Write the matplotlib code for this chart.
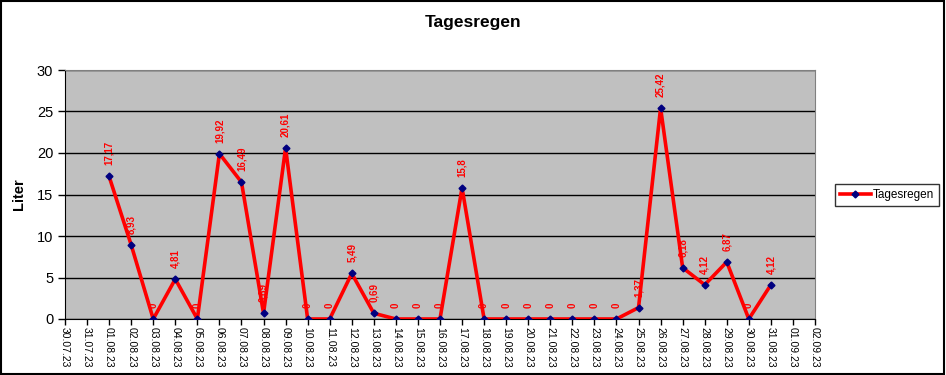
import matplotlib.pyplot as plt
import pandas as pd
import numpy as np

plt.rcParams['font.family'] = ['Liberation Sans', 'DejaVu Sans']

# x axis categories (30.07.23 .. 02.09.23)
tick_dates = pd.date_range("2023-07-30", "2023-09-02", freq="D")
tick_labels = [d.strftime("%d.%m.%y") for d in tick_dates]

# daily rain, 01.08.23 .. 31.08.23
rain = [17.17, 8.93, 0, 4.81, 0, 19.92, 16.49, 0.69, 20.61, 0,
        0, 5.49, 0.69, 0, 0, 0, 15.8, 0, 0, 0,
        0, 0, 0, 0, 1.37, 25.42, 6.18, 4.12, 6.87, 0,
        4.12]
first_day = 2  # index of 01.08.23 among tick labels

fig = plt.figure(figsize=(9.46, 3.75), dpi=100)
fig.patch.set_facecolor('white')
ax = fig.add_axes([65 / 946, 1 - 319 / 375, 750 / 946, 249 / 375])
ax.set_facecolor('#c0c0c0')

x = np.arange(first_day, first_day + len(rain))
ax.plot(x, rain, color='#ff0000', lw=2.6, marker='D', ms=3.5,
        mfc='#000080', mec='#000080', label='Tagesregen', zorder=3)

# value labels sit under the line, like in the original
for xi, v in zip(x, rain):
    txt = ('%g' % v).replace('.', ',')
    ax.annotate(txt, (xi, v), xytext=(0, 8), textcoords='offset points',
                rotation=90, ha='center', va='bottom', color='#ff0000',
                fontsize=7, fontweight='bold', zorder=2)

ax.set_xlim(0, len(tick_labels) - 1)
ax.set_ylim(0, 30)
ax.set_yticks(range(0, 31, 5))
ax.yaxis.grid(True, color='black', lw=1)
ax.set_axisbelow(True)
ax.set_xticks(range(len(tick_labels)))
ax.set_xticklabels(tick_labels, rotation=270, fontsize=7.5)
ax.tick_params(axis='y', labelsize=10.5, direction='out', length=5, width=1)
ax.tick_params(axis='x', direction='out', length=4, width=1, pad=2)
for s in ['top', 'right']:
    ax.spines[s].set_color('#808080')
for s in ['left', 'bottom']:
    ax.spines[s].set_color('black')
ax.set_ylabel('Liter', fontsize=10.5, fontweight='bold', labelpad=8)

fig.text(473 / 946, 1 - 22 / 375, 'Tagesregen', ha='center', va='center',
         fontsize=12.5, fontweight='bold')

leg = fig.legend(loc='center', bbox_to_anchor=(887 / 946, 1 - 195 / 375),
                 fontsize=8.5, frameon=True, fancybox=False, edgecolor='black',
                 handlelength=2.6, borderpad=0.4, handletextpad=0.2)
leg.get_frame().set_linewidth(1)

# outer frame
fig.add_artist(plt.Rectangle((0.001, 0.002), 0.997, 0.995, transform=fig.transFigure,
                             fill=False, edgecolor='black', lw=1.5))

fig.savefig('out.png', dpi=100)
